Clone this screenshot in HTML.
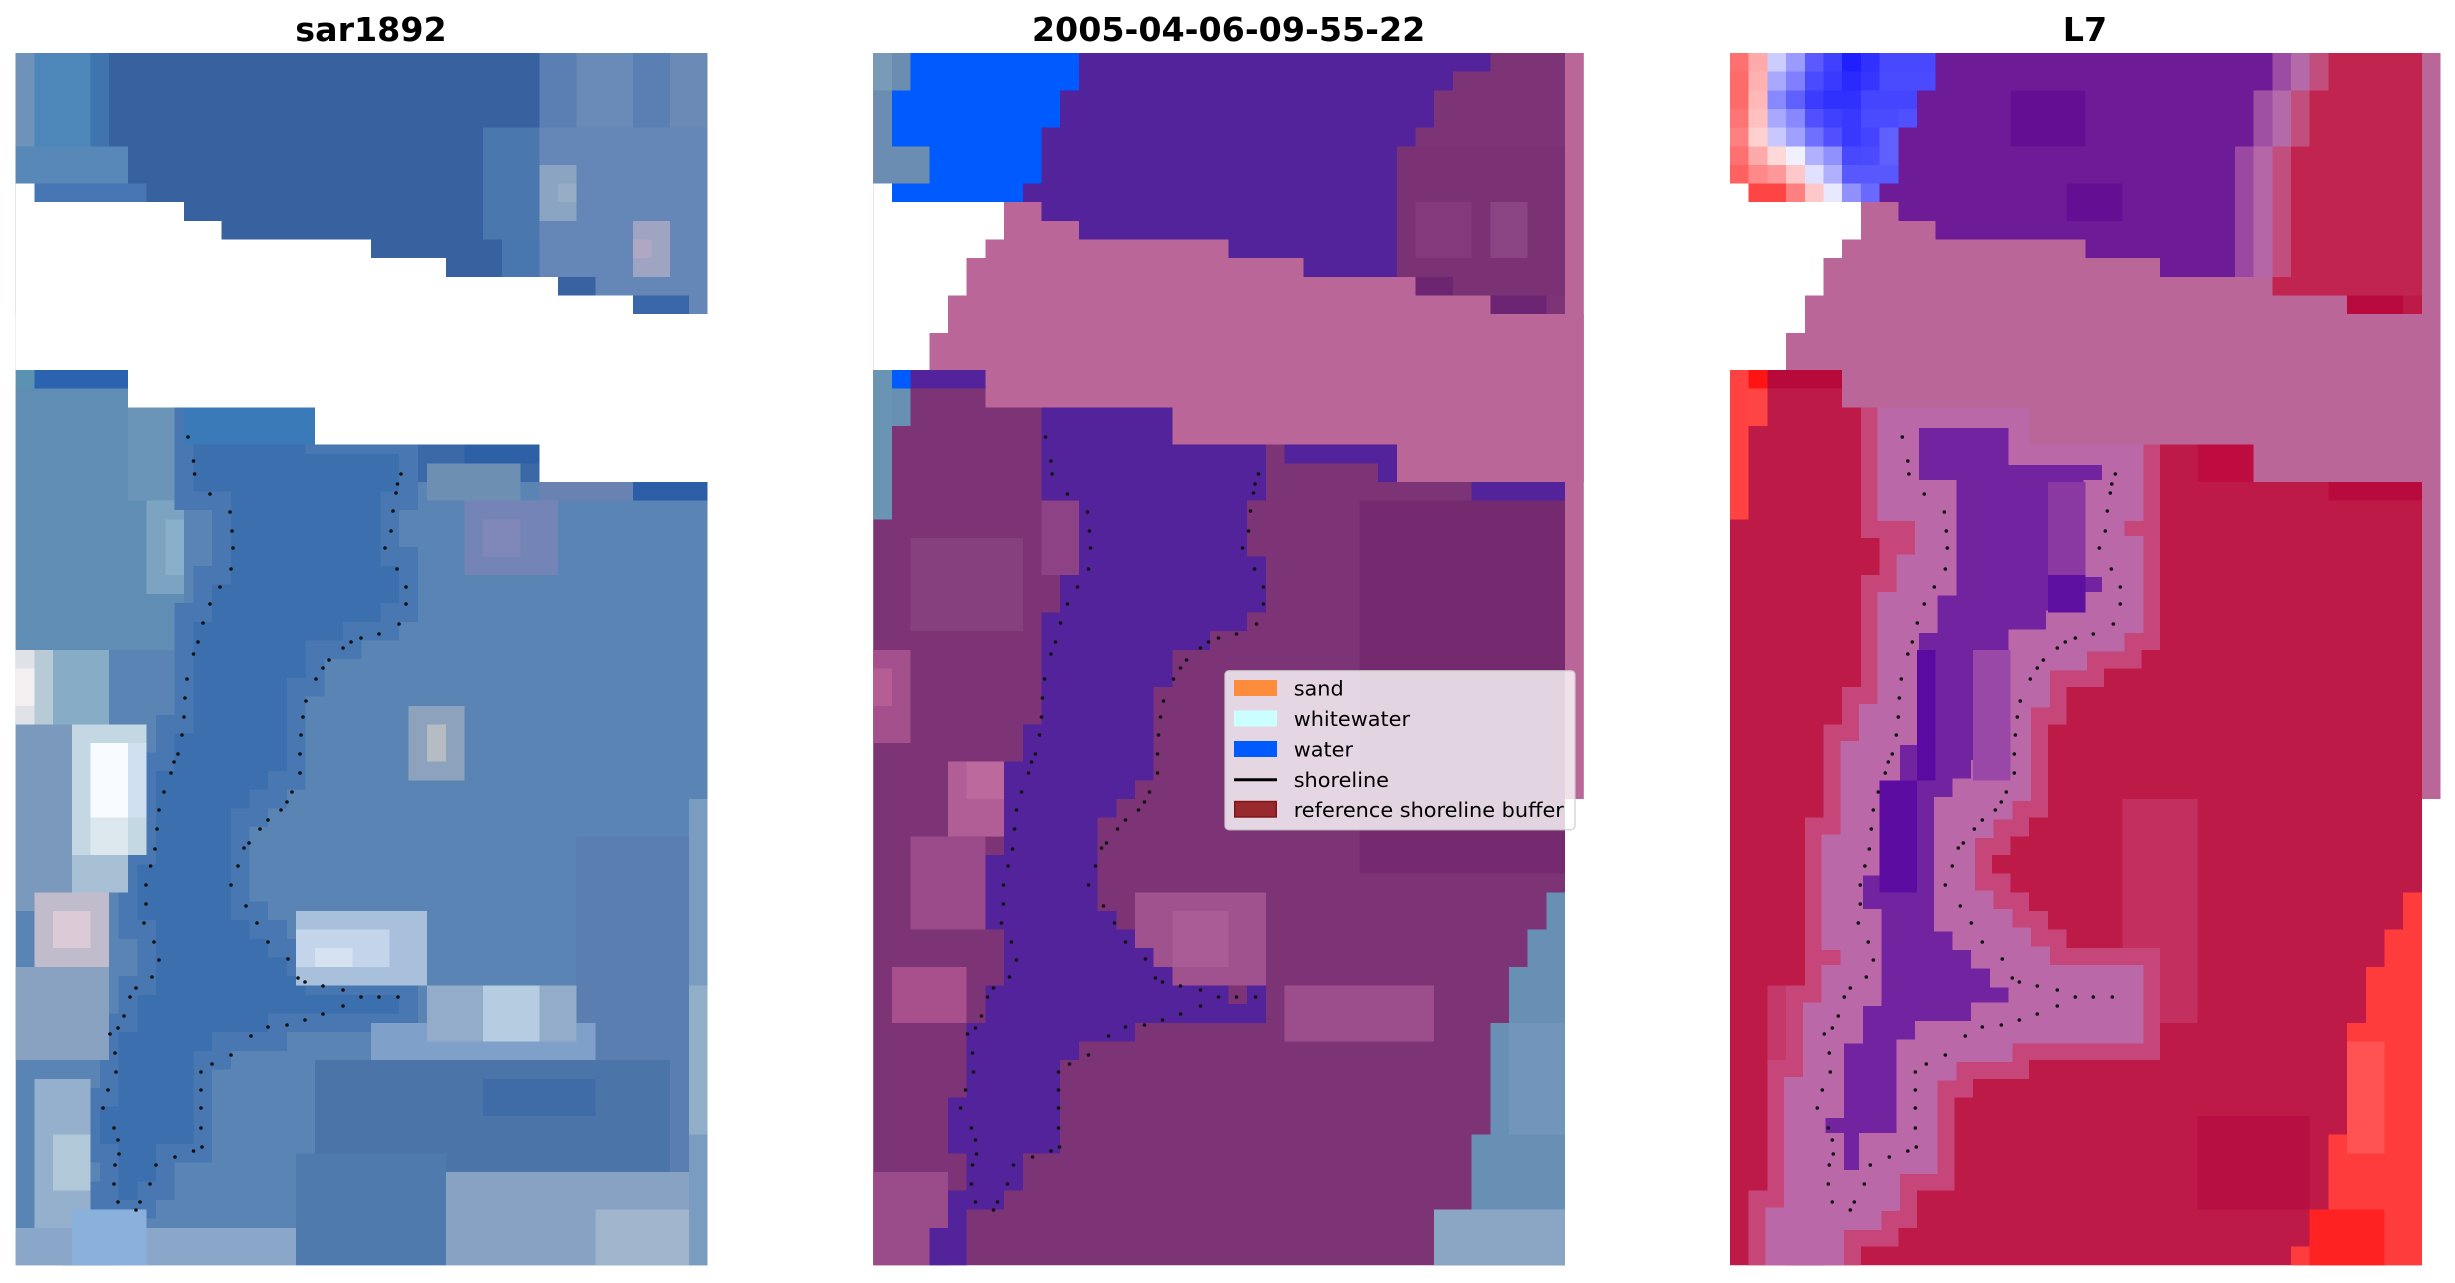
<!DOCTYPE html>
<html>
<head>
<meta charset="utf-8">
<style>
html,body{margin:0;padding:0;background:#fff;}
svg{display:block;}
text{font-family:"DejaVu Sans","Liberation Sans",sans-serif;}
</style>
</head>
<body>
<svg width="2455" height="1283" viewBox="0 0 2455 1283" xmlns="http://www.w3.org/2000/svg">
<defs>
<clipPath id="cp"><rect width="38" height="65"/></clipPath>
<polygon id="nan" points="0,7 1,7 1,8 9,8 9,9 11,9 11,10 19,10 19,11 23,11 23,12 29,12 29,13 33,13 33,14 38,14 38,23 28,23 28,21 16,21 16,19 6,19 6,17 0,17"/>
<polygon id="wh" points="0,7 1,7 1,8 7,8 7,10 6,10 6,11 5,11 5,13 4,13 4,15 3,15 3,17 0,17"/>
<polygon id="ch" points="9,19 9,24 11,24 11,28 10,28 10,30 9,30 9,36 8,36 8,38 7,38 7,43 6,43 6,47 7,47 7,50 6,50 6,52 5,52 5,56 4,56 4,59 5,59 5,61 4,61 4,63 3,63 3,65 5,65 5,62 7,62 7,61 8,61 8,59 10,59 10,54 11,54 11,53 14,53 14,52 21,52 21,50 16,50 16,49 15,49 15,48 14,48 14,47 13,47 13,46 12,46 12,41 13,41 13,40 14,40 14,39 15,39 15,34 16,34 16,32 18,32 18,31 20,31 20,30 21,30 21,27 20,27 20,24 21,24 21,21 16,21 16,19"/>
<polygon id="pu" points="11,0 33,0 33,1 31,1 31,2 30,2 30,4 29,4 29,5 28,5 28,12 23,12 23,11 19,11 19,10 11,10 11,9 9,9 9,8 8,8 8,7 9,7 9,4 10,4 10,2 11,2"/>
<polygon id="bl" points="2,0 11,0 11,2 10,2 10,4 9,4 9,7 8,7 8,8 1,8 1,7 3,7 3,5 1,5 1,2 2,2"/>
<polygon id="bg" points="0,0 2,0 2,2 1,2 1,5 3,5 3,7 0,7"/>
<polygon id="br" points="36,45 37,45 37,65 30,65 30,64 31,64 31,62 32,62 32,58 33,58 33,52 34,52 34,49 35,49 35,47 36,47"/>
<path id="sl" d="M188 437h0M193.5 461h0M194.6 474h0M210 494h0M230 512h0M232 531h0M233 548h0M231 569h0M220 587h0M210 604h0M203 623h0M198 642h0M193.5 654h0M187 679h0M185 698h0M184 717h0M182 735h0M178 754h0M174 762h0M171 773h0M164 792h0M159 810h0M157 829h0M155 849h0M150.6 866h0M146 885h0M146 904h0M144 923h0M154 942h0M159 960h0M152 977h0M136 988h0M130 997h0M124 1016h0M118 1028h0M110 1034h0M115 1053h0M116 1072h0M108 1090h0M103 1108h0M114 1128h0M118 1140h0M119 1154h0M115 1165h0M114 1184h0M118 1202h0M136 1210h0M140 1202h0M150 1184h0M156 1165h0M175 1157h0M193.5 1151h0M202 1147h0M201 1128h0M201 1108h0M201 1090h0M201 1072h0M212 1064h0M231 1055h0M251 1036h0M268 1027h0M287 1025h0M305 1020h0M323 1014h0M343 1006h0M361 997h0M379 997h0M398 997h0M343 990h0M323 986h0M305 982h0M298 978h0M288 959h0M268 942h0M257 923h0M246 906h0M231 885h0M238 866h0M244 848h0M249 843h0M260 829h0M268 820h0M281 810h0M287 802h0M292 792h0M300 773h0M300 754h0M301 735h0M303 717h0M306 701h0M316 679h0M323 668h0M329 660h0M343 648h0M351 642h0M361 638h0M379 634h0M399 624h0M406 604h0M406 587h0M397 569h0M385 548h0M391 531h0M393 511h0M396 493h0M397.5 484h0M401 474h0" stroke="#111" stroke-width="3.6" stroke-linecap="round" fill="none"/>
</defs>

<!-- Titles -->
<text x="371" y="41" font-size="33.3" font-weight="bold" text-anchor="middle" fill="#000">sar1892</text>
<text x="1228.6" y="41" font-size="33.3" font-weight="bold" text-anchor="middle" fill="#000">2005-04-06-09-55-22</text>
<text x="2085" y="41" font-size="33.3" font-weight="bold" text-anchor="middle" fill="#000">L7</text>

<!-- PANEL 1 -->
<g transform="translate(15.7,53) scale(18.7,18.65)" shape-rendering="crispEdges">
<g clip-path="url(#cp)">
<rect width="37" height="65" fill="#5a84b4"/>
<rect width="37" height="14" fill="#38619f"/>
<rect width="1" height="7" fill="#6f93b8"/>
<rect x="1" width="3" height="5" fill="#4d86b8"/>
<rect x="4" width="1" height="5" fill="#3f74ae"/>
<rect y="5" width="6" height="2" fill="#5888b8"/>
<rect x="1" y="7" width="6" height="1" fill="#4676b4"/>
<rect x="25" y="4" width="3" height="6" fill="#4a78ae"/>
<rect x="26" y="10" width="2" height="2" fill="#4876ae"/>
<rect x="28" width="9" height="4" fill="#5a7fb2"/>
<rect x="30" width="3" height="4" fill="#6a8bb7"/>
<rect x="35" width="2" height="4" fill="#6c8ab6"/>
<rect x="28" y="4" width="9" height="10" fill="#6587b7"/>
<rect x="28" y="6" width="2" height="3" fill="#8aa4c2"/>
<rect x="29" y="7" width="1" height="1" fill="#96adc6"/>
<rect x="33" y="9" width="2" height="3" fill="#9ea4c2"/>
<rect x="33" y="10" width="1" height="1" fill="#b0a8c2"/>
<rect x="29" y="12" width="2" height="1" fill="#3862a2"/>
<rect x="33" y="13" width="3" height="1" fill="#3a66aa"/>
<rect y="17" width="1" height="1" fill="#5b92b2"/>
<rect x="1" y="17" width="5" height="1" fill="#2b63b0"/>
<rect y="18" width="9" height="14" fill="#5f8db3"/>
<rect x="6" y="19" width="3" height="5" fill="#6a95b8"/>
<rect x="7" y="24" width="2" height="5" fill="#7ca3c2"/>
<rect x="8" y="25" width="1" height="3" fill="#8aafcb"/>
<rect x="16" y="21" width="12" height="2" fill="#3b69a8"/>
<rect x="24" y="21" width="4" height="1" fill="#2e60a8"/>
<rect x="22" y="22" width="5" height="2" fill="#6d90b2"/>
<rect x="28" y="23" width="5" height="1" fill="#6a82b2"/>
<rect x="33" y="23" width="4" height="1" fill="#2c5ea8"/>
<rect x="24" y="24" width="5" height="4" fill="#7584b6"/>
<rect x="25" y="25" width="2" height="2" fill="#8088ba"/>
<rect x="21" y="35" width="3" height="4" fill="#8da3bd"/>
<rect x="22" y="36" width="1" height="2" fill="#b6bcc4"/>
<rect x="30" y="42" width="6" height="18" fill="#5a7eb0"/>
<rect x="16" y="54" width="19" height="6" fill="#4b74a9"/>
<rect x="25" y="55" width="6" height="2" fill="#3f6ba7"/>
<rect x="15" y="59" width="8" height="6" fill="#4e7aae"/>
<rect x="23" y="60" width="14" height="5" fill="#88a2c4"/>
<rect x="31" y="62" width="6" height="3" fill="#a0b4cc"/>
<rect x="36" y="40" width="1" height="25" fill="#7a9cc0"/>
<rect x="36" y="50" width="1" height="8" fill="#90aec8"/>
<use href="#ch" fill="#3c6fae" stroke="#4877b2" stroke-width="1"/>
<rect x="9" y="19" width="7" height="2" fill="#3a7ab8"/>
<rect y="32" width="1" height="4" fill="#dfe3e7"/>
<rect y="33" width="1" height="2" fill="#f3eff0"/>
<rect x="1" y="32" width="1" height="5" fill="#b7cad6"/>
<rect x="2" y="32" width="3" height="4" fill="#86adc5"/>
<rect y="36" width="3" height="10" fill="#7b99bc"/>
<rect x="3" y="36" width="4" height="7" fill="#c4d8e4"/>
<rect x="4" y="37" width="2" height="4" fill="#f8fbff"/>
<rect x="6" y="37" width="1" height="4" fill="#d0e0f0"/>
<rect x="4" y="41" width="2" height="2" fill="#dce8ee"/>
<rect x="3" y="43" width="3" height="2" fill="#a8c0d4"/>
<rect x="1" y="45" width="4" height="4" fill="#c0bccc"/>
<rect x="2" y="46" width="2" height="2" fill="#dccad6"/>
<rect y="49" width="5" height="5" fill="#8aa2c2"/>
<rect x="1" y="55" width="3" height="8" fill="#94b0cc"/>
<rect x="2" y="58" width="2" height="3" fill="#b0c8d8"/>
<rect x="15" y="46" width="7" height="4" fill="#a8c0dc"/>
<rect x="15" y="47" width="5" height="2" fill="#c4d4ea"/>
<rect x="16" y="48" width="2" height="1" fill="#d6e2f2"/>
<rect x="19" y="52" width="12" height="2" fill="#7fa0c8"/>
<rect x="22" y="50" width="8" height="3" fill="#92acca"/>
<rect x="25" y="50" width="3" height="3" fill="#b6cce0"/>
<rect y="63" width="15" height="2" fill="#8aa6c8"/>
<rect x="3" y="62" width="4" height="3" fill="#8ab0dc"/>
<use href="#nan" fill="#fff"/>
<rect x="37" width="1" height="65" fill="#fff"/>
</g>
</g>

<!-- PANEL 2 -->
<g transform="translate(873.2,53) scale(18.7,18.65)" shape-rendering="crispEdges">
<g clip-path="url(#cp)">
<rect width="37" height="65" fill="#7d3476"/>
<rect x="28" y="5" width="9" height="8" fill="#7a3274"/>
<rect x="29" y="8" width="3" height="3" fill="#84397d"/>
<rect x="33" y="8" width="2" height="3" fill="#8a4484"/>
<rect x="29" y="12" width="2" height="1" fill="#6b2571"/>
<rect x="33" y="13" width="3" height="1" fill="#6c2572"/>
<use href="#bg" fill="#6b8db1"/>
<rect width="1" height="2" fill="#7a9bb8"/>
<use href="#bl" fill="#005bff"/>
<use href="#pu" fill="#52239a"/>
<rect x="26" y="24" width="11" height="20" fill="#752a70"/>
<rect x="2" y="26" width="6" height="5" fill="#86407e"/>
<rect x="9" y="24" width="2" height="4" fill="#8c4284"/>
<rect y="32" width="2" height="5" fill="#a4508c"/>
<rect y="33" width="1" height="2" fill="#b45e94"/>
<rect x="4" y="38" width="3" height="4" fill="#b25e96"/>
<rect x="5" y="38" width="2" height="2" fill="#bc6a9e"/>
<rect x="2" y="42" width="4" height="5" fill="#9a4a88"/>
<rect x="1" y="49" width="4" height="3" fill="#a8508c"/>
<rect x="14" y="45" width="7" height="5" fill="#a0528e"/>
<rect x="16" y="46" width="3" height="3" fill="#aa5c96"/>
<rect x="22" y="50" width="8" height="3" fill="#9c4e8c"/>
<rect y="60" width="4" height="5" fill="#9a4c8a"/>
<use href="#ch" fill="#52239a"/>
<rect x="19" y="50" width="1" height="1" fill="#7d3476"/>
<rect x="22" y="21" width="6" height="1" fill="#52239a"/>
<rect x="27" y="22" width="1" height="1" fill="#52239a"/>
<rect x="32" y="23" width="5" height="1" fill="#52239a"/>
<rect y="17" width="1" height="8" fill="#6a94b4"/>
<rect x="1" y="17" width="1" height="1" fill="#005bff"/>
<rect x="2" y="17" width="4" height="1" fill="#52239a"/>
<rect x="1" y="18" width="1" height="2" fill="#6890b2"/>
<use href="#br" fill="#6890b4"/>
<rect x="34" y="52" width="3" height="6" fill="#7296bb"/>
<rect x="30" y="62" width="7" height="3" fill="#8aa6c4"/>
<use href="#nan" fill="#ba6698"/>
<rect x="37" width="1" height="40" fill="#ba6698"/>
<use href="#wh" fill="#fff"/>
</g>
</g>

<!-- PANEL 3 -->
<g transform="translate(1730,53) scale(18.7,18.65)" shape-rendering="crispEdges">
<g clip-path="url(#cp)">
<rect width="37" height="65" fill="#bd1a48"/>
<use href="#pu" fill="#6d1b97"/>
<rect x="15" y="2" width="4" height="3" fill="#620f94"/>
<rect x="18" y="7" width="3" height="2" fill="#620f94"/>
<rect x="29" width="8" height="13" fill="#c0244f"/>
<rect x="29" width="1" height="2" fill="#9c4ca2"/>
<rect x="30" width="1" height="2" fill="#b46aa8"/>
<rect x="31" width="1" height="2" fill="#c24e7c"/>
<rect x="28" y="2" width="1" height="3" fill="#a050a2"/>
<rect x="29" y="2" width="1" height="3" fill="#b46aa8"/>
<rect x="30" y="2" width="1" height="3" fill="#c24e7c"/>
<rect x="27" y="5" width="1" height="7" fill="#9a48a2"/>
<rect x="28" y="5" width="1" height="7" fill="#b466a6"/>
<rect x="29" y="5" width="1" height="7" fill="#c24e80"/>
<rect x="33" y="13" width="3" height="1" fill="#b80a3c"/>
<!-- top-left cells -->
<rect x="0" y="0" width="1" height="1" fill="#ff7070"/><rect x="1" y="0" width="1" height="1" fill="#ffaaaa"/><rect x="2" y="0" width="1" height="1" fill="#ccccff"/><rect x="3" y="0" width="1" height="1" fill="#9a9aff"/><rect x="4" y="0" width="1" height="1" fill="#5a5aff"/><rect x="5" y="0" width="1" height="1" fill="#4040ff"/><rect x="6" y="0" width="1" height="1" fill="#2020ff"/><rect x="7" y="0" width="1" height="1" fill="#3030ff"/><rect x="8" y="0" width="3" height="1" fill="#4848ff"/>
<rect x="0" y="1" width="1" height="1" fill="#ff6a6a"/><rect x="1" y="1" width="1" height="1" fill="#ffb0b0"/><rect x="2" y="1" width="1" height="1" fill="#a8a8ff"/><rect x="3" y="1" width="1" height="1" fill="#8080ff"/><rect x="4" y="1" width="1" height="1" fill="#4a4aff"/><rect x="5" y="1" width="1" height="1" fill="#3a3aff"/><rect x="6" y="1" width="1" height="1" fill="#2a2aff"/><rect x="7" y="1" width="1" height="1" fill="#3535ff"/><rect x="8" y="1" width="3" height="1" fill="#4a4aff"/>
<rect x="0" y="2" width="1" height="1" fill="#ff6a6a"/><rect x="1" y="2" width="1" height="1" fill="#ffb8b8"/><rect x="2" y="2" width="1" height="1" fill="#8888ff"/><rect x="3" y="2" width="1" height="1" fill="#6060ff"/><rect x="4" y="2" width="1" height="1" fill="#3c3cff"/><rect x="5" y="2" width="2" height="1" fill="#3030ff"/><rect x="7" y="2" width="3" height="1" fill="#4545ff"/>
<rect x="0" y="3" width="1" height="1" fill="#ff7575"/><rect x="1" y="3" width="1" height="1" fill="#ffc0c0"/><rect x="2" y="3" width="1" height="1" fill="#a8a8ff"/><rect x="3" y="3" width="1" height="1" fill="#8888ff"/><rect x="4" y="3" width="1" height="1" fill="#5050ff"/><rect x="5" y="3" width="1" height="1" fill="#4040ff"/><rect x="6" y="3" width="1" height="1" fill="#3838ff"/><rect x="7" y="3" width="2" height="1" fill="#4a4aff"/><rect x="9" y="3" width="1" height="1" fill="#5050ff"/>
<rect x="0" y="4" width="1" height="1" fill="#ff8080"/><rect x="1" y="4" width="1" height="1" fill="#ffd0d0"/><rect x="2" y="4" width="1" height="1" fill="#c8c8ff"/><rect x="3" y="4" width="1" height="1" fill="#a0a0ff"/><rect x="4" y="4" width="1" height="1" fill="#7070ff"/><rect x="5" y="4" width="1" height="1" fill="#5050ff"/><rect x="6" y="4" width="1" height="1" fill="#3838ff"/><rect x="7" y="4" width="1" height="1" fill="#4444ff"/><rect x="8" y="4" width="1" height="1" fill="#6060ff"/>
<rect x="0" y="5" width="1" height="1" fill="#ff7070"/><rect x="1" y="5" width="1" height="1" fill="#ffaaaa"/><rect x="2" y="5" width="1" height="1" fill="#ffd8d8"/><rect x="3" y="5" width="1" height="1" fill="#f0f0ff"/><rect x="4" y="5" width="1" height="1" fill="#b0b0ff"/><rect x="5" y="5" width="1" height="1" fill="#9090ff"/><rect x="6" y="5" width="1" height="1" fill="#4848ff"/><rect x="7" y="5" width="1" height="1" fill="#4a4aff"/><rect x="8" y="5" width="1" height="1" fill="#6060ff"/>
<rect x="0" y="6" width="1" height="1" fill="#ff6060"/><rect x="1" y="6" width="1" height="1" fill="#ff8888"/><rect x="2" y="6" width="1" height="1" fill="#ff9999"/><rect x="3" y="6" width="1" height="1" fill="#ffc8c8"/><rect x="4" y="6" width="1" height="1" fill="#e0e0ff"/><rect x="5" y="6" width="1" height="1" fill="#b0b0ff"/><rect x="6" y="6" width="3" height="1" fill="#5858ff"/>
<rect x="1" y="7" width="2" height="1" fill="#ff4444"/><rect x="3" y="7" width="1" height="1" fill="#ff8080"/><rect x="4" y="7" width="1" height="1" fill="#ffc8c8"/><rect x="5" y="7" width="1" height="1" fill="#e8e8ff"/><rect x="6" y="7" width="1" height="1" fill="#9090ff"/><rect x="7" y="7" width="1" height="1" fill="#6a6aff"/>
<!-- lower -->
<rect y="17" width="1" height="8" fill="#ff4242"/>
<rect x="1" y="17" width="1" height="1" fill="#ff1414"/>
<rect x="1" y="18" width="1" height="2" fill="#ff4444"/>
<rect x="2" y="17" width="4" height="1" fill="#b70a3a"/>
<rect x="25" y="21" width="3" height="2" fill="#bf0c40"/>
<rect x="32" y="23" width="5" height="1" fill="#b80a3c"/>
<rect x="2" y="50" width="4" height="8" fill="#c4386a"/>
<rect x="4" y="61" width="2" height="4" fill="#c666a0"/>
<rect x="21" y="40" width="4" height="12" fill="#c32f5f"/>
<rect x="25" y="57" width="6" height="5" fill="#b80f42"/>
<use href="#ch" fill="none" stroke="#c6467a" stroke-width="4" stroke-linejoin="miter"/>
<use href="#ch" fill="#7224a0" stroke="#bb68a8" stroke-width="2.2" stroke-linejoin="miter"/>
<rect x="13" y="32" width="2" height="7" fill="#9a48a8"/>
<rect x="17" y="23" width="2" height="5" fill="#8a38a2"/>
<rect x="10" y="32" width="1" height="7" fill="#5a0aa0"/>
<rect x="8" y="39" width="2" height="6" fill="#5c0ca0"/>
<rect x="17" y="28" width="2" height="2" fill="#5e10a0"/>
<use href="#br" fill="#ff3c3c"/>
<rect x="33" y="53" width="2" height="6" fill="#ff5252"/>
<rect x="31" y="62" width="4" height="3" fill="#ff2222"/>
<use href="#nan" fill="#ba6698"/>
<rect x="37" width="1" height="40" fill="#ba6698"/>
<use href="#wh" fill="#fff"/>
</g>
</g>

<!-- shoreline dots -->
<use href="#sl"/>
<use href="#sl" transform="translate(857.5,0)"/>
<use href="#sl" transform="translate(1714.3,0)"/>

<!-- Legend -->
<rect x="1225" y="670.7" width="350" height="159" rx="4" ry="4" fill="#ffffff" fill-opacity="0.8" stroke="#cccccc" stroke-opacity="0.8" stroke-width="1.5"/>
<rect x="1234" y="680" width="43" height="16" fill="#fd8d3c"/>
<rect x="1234" y="710.5" width="43" height="16" fill="#ccffff"/>
<rect x="1234" y="741" width="43" height="16" fill="#005bff"/>
<line x1="1234" y1="779.7" x2="1277" y2="779.7" stroke="#000" stroke-width="3"/>
<rect x="1234.7" y="801.5" width="41.6" height="15.5" fill="#98292c" stroke="#7a1416" stroke-width="1.4"/>
<text x="1293.7" y="695.5" font-size="20.83" fill="#000">sand</text>
<text x="1293.7" y="726" font-size="20.83" fill="#000">whitewater</text>
<text x="1293.7" y="756.3" font-size="20.83" fill="#000">water</text>
<text x="1293.7" y="786.8" font-size="20.83" fill="#000">shoreline</text>
<text x="1293.7" y="817" font-size="20.83" fill="#000">reference shoreline buffer</text>
</svg>
</body>
</html>
